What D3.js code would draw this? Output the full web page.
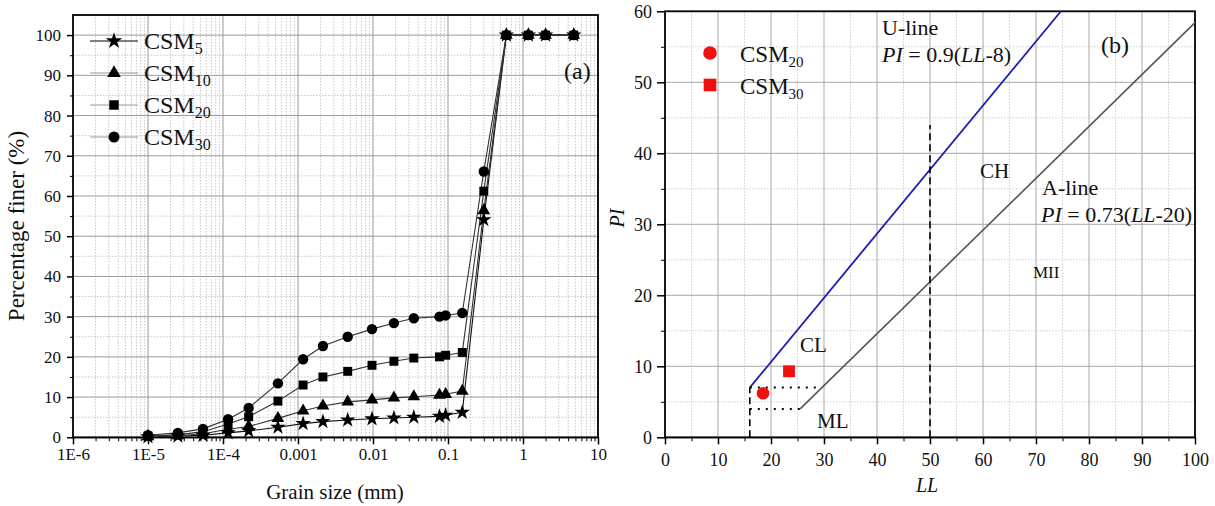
<!DOCTYPE html>
<html lang="en">
<head>
    <meta charset="UTF-8">
    <title>Grain size and plasticity</title>
    <script src="https://d3js.org/d3.v7.min.js"></script>
    <style>
        body { margin: 0; background: #fff; }
        text { font-family: 'Liberation Serif', 'Times New Roman', serif; fill: #111; }
    </style>
</head>
<body>
<script>

    const width  = 1215;
    const height = 506;

    // (a) grain size distribution
    const grainSize = [1e-5, 2.5e-5, 5.4e-5, 1.17e-4, 2.2e-4, 5.4e-4, 1.17e-3, 2.15e-3, 4.6e-3, 0.0097,
                       0.019, 0.035, 0.077, 0.093, 0.155, 0.3, 0.6, 1.18, 2.0, 4.75];
    const csm5  = [0.1, 0.3, 0.5, 1.1, 1.6, 2.5, 3.4, 3.9, 4.3, 4.6, 4.8, 5.0, 5.2, 5.5, 6.2, 54.1, 100, 100, 100, 100];
    const csm10 = [0.2, 0.4, 0.9, 2.0, 2.7, 4.7, 6.6, 7.8, 8.8, 9.3, 9.8, 10.1, 10.5, 10.7, 11.5, 56.4, 100, 100, 100, 100];
    const csm20 = [0.3, 0.6, 1.4, 3.3, 5.1, 9.0, 13.0, 15.0, 16.4, 17.9, 18.9, 19.7, 20.0, 20.4, 21.1, 61.2, 100, 100, 100, 100];
    const csm30 = [0.5, 1.1, 2.1, 4.5, 7.3, 13.4, 19.4, 22.7, 25.0, 26.9, 28.4, 29.6, 30.0, 30.3, 30.9, 66.1, 100, 100, 100, 100];
    const seriesNames = ['5', '10', '20', '30'];
    const xTickLabels = ['1E-6', '1E-5', '1E-4', '0.001', '0.01', '0.1', '1', '10'];

    // (b) plasticity chart
    const pointNames = ['20', '30'];
    const pointLL = [18.5, 23.4];
    const pointPI = [6.2, 9.3];
    const uLine = [[16, 7], [74.7, 60]];
    const aLine = [[25.5, 4], [100, 58.4]];
    const dashLines = [[[50, 0], [50, 44]], [[16, 0], [16, 7]]];
    const dotLines = [[[16, 7], [29.6, 7]], [[16, 4], [25.5, 4]]];

    const svg = d3.select("body")
            .append("svg")
            .attr("width", width)
            .attr("height", height);

    // ---------------- chart (a) ----------------
    const xa = d3.scaleLog().domain([1e-6, 10]).range([73, 598]);
    const ya = d3.scaleLinear().domain([0, 105]).range([437.3, 15]);

    const ga = svg.append("g");

    const decades = d3.range(-6, 2).map(e => Math.pow(10, e));
    const minorX = [];
    decades.slice(0, -1).forEach(d => { for (let k = 2; k <= 9; k++) minorX.push(d * k); });

    ga.selectAll(".minx").data(minorX).enter().append("line")
        .attr("x1", d => xa(d)).attr("x2", d => xa(d))
        .attr("y1", ya(105)).attr("y2", ya(0))
        .attr("stroke", "#c8c8c8").attr("stroke-dasharray", "1.5,1.5");
    ga.selectAll(".miny").data(d3.range(5, 105, 10)).enter().append("line")
        .attr("x1", xa(1e-6)).attr("x2", xa(10))
        .attr("y1", d => ya(d)).attr("y2", d => ya(d))
        .attr("stroke", "#c8c8c8").attr("stroke-dasharray", "1.5,1.5");
    ga.selectAll(".majx").data(decades.slice(1)).enter().append("line")
        .attr("x1", d => xa(d)).attr("x2", d => xa(d))
        .attr("y1", ya(105)).attr("y2", ya(0))
        .attr("stroke", "#9a9a9a");
    ga.selectAll(".majy").data(d3.range(10, 105, 10)).enter().append("line")
        .attr("x1", xa(1e-6)).attr("x2", xa(10))
        .attr("y1", d => ya(d)).attr("y2", d => ya(d))
        .attr("stroke", "#9a9a9a");

    const xAxisA = d3.axisBottom(xa)
            .tickValues(decades)
            .tickFormat((d, i) => xTickLabels[i])
            .tickSize(7).tickPadding(4);
    ga.append("g").attr("transform", "translate(0," + ya(0) + ")").call(xAxisA)
        .call(g => g.selectAll(".tick line").attr("stroke-width", 1.5));
    ga.append("g").attr("transform", "translate(0," + ya(0) + ")")
        .call(d3.axisBottom(xa).tickValues(minorX).tickFormat("").tickSize(4))
        .call(g => g.select(".domain").remove());

    const yAxisA = d3.axisLeft(ya).tickValues(d3.range(0, 101, 10)).tickSize(6).tickPadding(6);
    ga.append("g").attr("transform", "translate(" + xa(1e-6) + ",0)").call(yAxisA)
        .call(g => g.select(".domain").remove())
        .call(g => g.selectAll(".tick line").attr("stroke-width", 1.5));
    ga.append("g").attr("transform", "translate(" + xa(1e-6) + ",0)")
        .call(d3.axisLeft(ya).tickValues(d3.range(5, 105, 10)).tickFormat("").tickSize(3))
        .call(g => g.select(".domain").remove());

    ga.selectAll(".tick text").style("font-family", "'Liberation Serif', serif").style("font-size", "17px").attr("fill", "#111");

    ga.append("rect")
        .attr("x", xa(1e-6)).attr("y", ya(105))
        .attr("width", xa(10) - xa(1e-6)).attr("height", ya(0) - ya(105))
        .attr("fill", "none").attr("stroke", "#000").attr("stroke-width", 1.8);

    const seriesValues = [csm5, csm10, csm20, csm30];
    const symbols = [d3.symbolStar, d3.symbolTriangle, d3.symbolSquare, d3.symbolCircle];
    const symbolSizes = [75, 70, 80, 85];
    const lineColors = ['#111', '#333', '#333', '#333'];

    const line = d3.line().x(d => xa(d[0])).y(d => ya(d[1]));

    seriesValues.forEach((vals, s) => {
        const pts = grainSize.map((g, i) => [g, vals[i]]);
        ga.append("path").datum(pts)
            .attr("d", line)
            .attr("fill", "none")
            .attr("stroke", lineColors[s])
            .attr("stroke-width", 1.1);
    });
    seriesValues.forEach((vals, s) => {
        const pts = grainSize.map((g, i) => [g, vals[i]]);
        ga.selectAll(".pt" + s).data(pts).enter().append("path")
            .attr("transform", d => "translate(" + xa(d[0]) + "," + ya(d[1]) + ")")
            .attr("d", d3.symbol().type(symbols[s]).size(symbolSizes[s]))
            .attr("fill", "#000");
    });

    // legend (a)
    const legA = ga.append("g");
    const legRows = [41, 73, 105, 137];
    seriesNames.forEach((n, i) => {
        legA.append("line")
            .attr("x1", 90).attr("x2", 138)
            .attr("y1", legRows[i]).attr("y2", legRows[i])
            .attr("stroke", i === 0 ? "#000" : "#999").attr("stroke-width", 1);
        legA.append("path")
            .attr("transform", "translate(114," + legRows[i] + ")")
            .attr("d", d3.symbol().type(symbols[i]).size(symbolSizes[i] + 10))
            .attr("fill", "#000");
        const t = legA.append("text")
            .attr("x", 144).attr("y", legRows[i] + 8)
            .style("font-size", "24px");
        t.append("tspan").text("CSM");
        t.append("tspan").text(n).attr("dy", 5).style("font-size", "16px");
    });

    ga.append("text").attr("x", 564).attr("y", 79).style("font-size", "24px").text("(a)");
    ga.append("text").attr("x", 335).attr("y", 499).attr("text-anchor", "middle")
        .style("font-size", "21px").text("Grain size (mm)");
    ga.append("text")
        .attr("transform", "translate(24,226) rotate(-90)")
        .attr("text-anchor", "middle")
        .style("font-size", "23px").text("Percentage finer (%)");

    // ---------------- chart (b) ----------------
    const xb = d3.scaleLinear().domain([0, 100]).range([665, 1195]);
    const yb = d3.scaleLinear().domain([0, 60]).range([437.3, 11.3]);
    const gb = svg.append("g");

    gb.selectAll(".bminx").data(d3.range(5, 100, 10)).enter().append("line")
        .attr("x1", d => xb(d)).attr("x2", d => xb(d))
        .attr("y1", yb(60)).attr("y2", yb(0))
        .attr("stroke", "#cfcfcf").attr("stroke-dasharray", "1.5,1.5");
    gb.selectAll(".bminy").data(d3.range(5, 60, 10)).enter().append("line")
        .attr("x1", xb(0)).attr("x2", xb(100))
        .attr("y1", d => yb(d)).attr("y2", d => yb(d))
        .attr("stroke", "#cfcfcf").attr("stroke-dasharray", "1.5,1.5");
    gb.selectAll(".bmajx").data(d3.range(10, 100, 10)).enter().append("line")
        .attr("x1", d => xb(d)).attr("x2", d => xb(d))
        .attr("y1", yb(60)).attr("y2", yb(0))
        .attr("stroke", "#a8a8a8");
    gb.selectAll(".bmajy").data(d3.range(10, 60, 10)).enter().append("line")
        .attr("x1", xb(0)).attr("x2", xb(100))
        .attr("y1", d => yb(d)).attr("y2", d => yb(d))
        .attr("stroke", "#a8a8a8");

    gb.append("g").attr("transform", "translate(0," + yb(0) + ")")
        .call(d3.axisBottom(xb).tickValues(d3.range(0, 101, 10)).tickSize(7).tickPadding(9))
        .call(g => g.selectAll(".tick line").attr("stroke-width", 1.5));
    gb.append("g").attr("transform", "translate(0," + yb(0) + ")")
        .call(d3.axisBottom(xb).tickValues(d3.range(5, 100, 10)).tickFormat("").tickSize(4))
        .call(g => g.select(".domain").remove());
    gb.append("g").attr("transform", "translate(" + xb(0) + ",0)")
        .call(d3.axisLeft(yb).tickValues(d3.range(0, 61, 10)).tickSize(8).tickPadding(5))
        .call(g => g.select(".domain").remove())
        .call(g => g.selectAll(".tick line").attr("stroke-width", 1.5));
    gb.append("g").attr("transform", "translate(" + xb(0) + ",0)")
        .call(d3.axisLeft(yb).tickValues(d3.range(5, 60, 10)).tickFormat("").tickSize(4))
        .call(g => g.select(".domain").remove());

    gb.selectAll(".tick text").style("font-family", "'Liberation Serif', serif").style("font-size", "18px").attr("fill", "#111");

    gb.append("rect")
        .attr("x", xb(0)).attr("y", yb(60))
        .attr("width", xb(100) - xb(0)).attr("height", yb(0) - yb(60))
        .attr("fill", "none").attr("stroke", "#000").attr("stroke-width", 1.8);

    const lineB = d3.line().x(d => xb(d[0])).y(d => yb(d[1]));

    gb.append("path").datum(uLine).attr("d", lineB)
        .attr("fill", "none").attr("stroke", "#1c1cb0").attr("stroke-width", 1.8);
    gb.append("path").datum(aLine).attr("d", lineB)
        .attr("fill", "none").attr("stroke", "#555").attr("stroke-width", 1.6);
    dashLines.forEach(l => {
        gb.append("path").datum(l).attr("d", lineB)
            .attr("fill", "none").attr("stroke", "#000").attr("stroke-width", 1.6)
            .attr("stroke-dasharray", "7,4");
    });
    dotLines.forEach(l => {
        gb.append("path").datum(l).attr("d", lineB)
            .attr("fill", "none").attr("stroke", "#000").attr("stroke-width", 2)
            .attr("stroke-dasharray", "2,6");
    });

    const pointSymbols = [d3.symbolCircle, d3.symbolSquare];
    const pointSizes = [125, 140];
    pointNames.forEach((n, i) => {
        gb.append("path")
            .attr("transform", "translate(" + xb(pointLL[i]) + "," + yb(pointPI[i]) + ")")
            .attr("d", d3.symbol().type(pointSymbols[i]).size(pointSizes[i]))
            .attr("fill", "#f01010");
    });

    // legend (b)
    const legBRows = [53, 85];
    pointNames.forEach((n, i) => {
        gb.append("path")
            .attr("transform", "translate(710," + legBRows[i] + ")")
            .attr("d", d3.symbol().type(pointSymbols[i]).size(pointSizes[i] + 20))
            .attr("fill", "#f01010");
        const t = gb.append("text")
            .attr("x", 740).attr("y", legBRows[i] + 9)
            .style("font-size", "23px");
        t.append("tspan").text("CSM");
        t.append("tspan").text(n).attr("dy", 5).style("font-size", "15px");
    });

    function eq(x, y, parts) {
        const t = gb.append("text").attr("x", x).attr("y", y).style("font-size", "22px");
        parts.forEach(p => t.append("tspan").text(p[0]).style("font-style", p[1] ? "italic" : "normal"));
    }

    gb.append("text").attr("x", 882).attr("y", 35).style("font-size", "22px").text("U-line");
    eq(882, 62, [["PI", true], [" = 0.9(", false], ["LL", true], ["-8)", false]]);
    gb.append("text").attr("x", 1101).attr("y", 53).style("font-size", "24px").text("(b)");
    gb.append("text").attr("x", 980).attr("y", 178).style("font-size", "21px").text("CH");
    gb.append("text").attr("x", 1042).attr("y", 195).style("font-size", "22px").text("A-line");
    eq(1041, 222, [["PI", true], [" = 0.73(", false], ["LL", true], ["-20)", false]]);
    gb.append("text").attr("x", 1033).attr("y", 278).style("font-size", "17px").text("MII");
    gb.append("text").attr("x", 800).attr("y", 352).style("font-size", "21px").text("CL");
    gb.append("text").attr("x", 817).attr("y", 428).style("font-size", "21px").text("ML");

    gb.append("text").attr("x", 927).attr("y", 492).attr("text-anchor", "middle")
        .style("font-size", "20px").style("font-style", "italic").text("LL");
    gb.append("text")
        .attr("transform", "translate(624,218) rotate(-90)")
        .attr("text-anchor", "middle")
        .style("font-size", "20px").style("font-style", "italic").text("PI");

</script>
</body>
</html>
